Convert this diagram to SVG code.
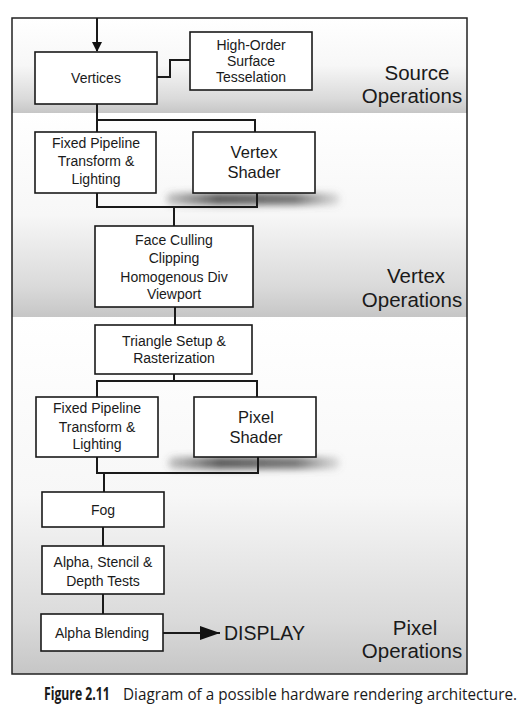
<svg xmlns="http://www.w3.org/2000/svg" width="530" height="710" viewBox="0 0 530 710">
<defs>
<linearGradient id="band" x1="0" y1="0" x2="0" y2="1">
<stop offset="0" stop-color="#ffffff"/>
<stop offset="0.5" stop-color="#f7f7f7"/>
<stop offset="0.85" stop-color="#dadada"/>
<stop offset="1" stop-color="#c6c6c6"/>
</linearGradient>
<linearGradient id="shfade" x1="0" y1="0" x2="1" y2="0">
<stop offset="0" stop-color="#555" stop-opacity="0.3"/>
<stop offset="0.3" stop-color="#444" stop-opacity="0.9"/>
<stop offset="0.75" stop-color="#555" stop-opacity="0.8"/>
<stop offset="1" stop-color="#777" stop-opacity="0.2"/>
</linearGradient>
<filter id="blur" x="-20%" y="-150%" width="140%" height="400%">
<feGaussianBlur stdDeviation="3.5"/>
</filter>
<marker id="arrow" markerWidth="10" markerHeight="10" refX="9" refY="5" orient="auto" markerUnits="userSpaceOnUse">
<path d="M0,0 L10,5 L0,10 Z" fill="#111"/>
</marker>
<marker id="arrow2" markerWidth="20" markerHeight="14" refX="20" refY="7" orient="auto" markerUnits="userSpaceOnUse">
<path d="M0,0 L20,7 L0,14 Z" fill="#111"/>
</marker>
</defs>
<style>
.box{fill:#fff;stroke:#1a1a1a;stroke-width:1.6}
.t{font-family:"Liberation Sans",Arial,sans-serif;font-size:14px;fill:#1a1a1a;text-anchor:middle}
.big{font-size:16.5px}
.lab{font-family:"Liberation Sans",Arial,sans-serif;font-size:20.5px;fill:#1a1a1a;text-anchor:middle}
.c{fill:none;stroke:#1a1a1a;stroke-width:2}
.shadow{fill:url(#shfade);filter:url(#blur)}
.cap{font-family:"Open Sans","Noto Sans",sans-serif;font-size:17px;fill:#1a1a1a}
</style>
<rect width="530" height="710" fill="#fff"/>
<g id="bands">
<rect x="12" y="18" width="455" height="95" fill="url(#band)"/>
<rect x="12" y="113" width="455" height="204" fill="url(#band)"/>
<rect x="12" y="317" width="455" height="357" fill="url(#band)"/>
<rect x="12" y="18" width="455" height="656" fill="none" stroke="#222" stroke-width="1.5"/>
</g>
<g id="shadows">
<rect class="shadow" x="166" y="193" width="174" height="12" rx="6"/>
<rect class="shadow" x="168" y="457" width="172" height="12" rx="6"/>
</g>
<g id="connectors">
<line class="c" x1="97" y1="18" x2="97" y2="51" marker-end="url(#arrow)"/>
<polyline class="c" points="157,77 170,77 170,60 190,60"/>
<polyline class="c" points="97,104 97,120 255,120 255,132"/>
<line class="c" x1="97" y1="120" x2="97" y2="132"/>
<polyline class="c" points="97,193 97,207 257,207 257,193"/>
<line class="c" x1="174" y1="207" x2="174" y2="226"/>
<line class="c" x1="175" y1="307" x2="175" y2="325"/>
<line class="c" x1="174" y1="374" x2="174" y2="381"/>
<polyline class="c" points="97,397 97,381 257,381 257,397"/>
<polyline class="c" points="97,457 97,473 258,473 258,457"/>
<line class="c" x1="104" y1="473" x2="104" y2="492"/>
<line class="c" x1="103" y1="527" x2="103" y2="546"/>
<line class="c" x1="103" y1="594" x2="103" y2="614"/>
<line class="c" x1="163" y1="633" x2="220" y2="633" stroke-width="2.5" marker-end="url(#arrow2)"/>
</g>
<g id="vertices">
<rect class="box" x="35" y="52" width="122" height="52"/>
<text class="t" x="96" y="83">Vertices</text>
</g>
<g id="highorder">
<rect class="box" x="190" y="32" width="122" height="58"/>
<text class="t" x="251" y="50">High-Order</text>
<text class="t" x="251" y="66">Surface</text>
<text class="t" x="251" y="82">Tesselation</text>
</g>
<g id="fixed1">
<rect class="box" x="35" y="132" width="121" height="61"/>
<text class="t" x="96" y="148">Fixed Pipeline</text>
<text class="t" x="96" y="166">Transform &amp;</text>
<text class="t" x="96" y="184">Lighting</text>
</g>
<g id="vshader">
<rect class="box" x="193" y="132" width="122" height="61"/>
<text class="t big" x="254" y="158">Vertex</text>
<text class="t big" x="254" y="178">Shader</text>
</g>
<g id="faceculling">
<rect class="box" x="95" y="226" width="158" height="81"/>
<text class="t" x="174" y="245">Face Culling</text>
<text class="t" x="174" y="263">Clipping</text>
<text class="t" x="174" y="282">Homogenous Div</text>
<text class="t" x="174" y="299">Viewport</text>
</g>
<g id="triangle">
<rect class="box" x="95" y="325" width="157" height="49"/>
<text class="t" x="174" y="346">Triangle Setup &amp;</text>
<text class="t" x="174" y="363">Rasterization</text>
</g>
<g id="fixed2">
<rect class="box" x="36" y="397" width="122" height="60"/>
<text class="t" x="97" y="413">Fixed Pipeline</text>
<text class="t" x="97" y="432">Transform &amp;</text>
<text class="t" x="97" y="449">Lighting</text>
</g>
<g id="pshader">
<rect class="box" x="194" y="397" width="122" height="60"/>
<text class="t big" x="256" y="423">Pixel</text>
<text class="t big" x="256" y="443">Shader</text>
</g>
<g id="fog">
<rect class="box" x="42" y="492" width="122" height="35"/>
<text class="t" x="103" y="515">Fog</text>
</g>
<g id="tests">
<rect class="box" x="42" y="546" width="122" height="48"/>
<text class="t" x="103" y="567">Alpha, Stencil &amp;</text>
<text class="t" x="103" y="586">Depth Tests</text>
</g>
<g id="blending">
<rect class="box" x="41" y="614" width="122" height="37"/>
<text class="t" x="102" y="638">Alpha Blending</text>
</g>
<g id="display">
<text x="224" y="640" font-family="Liberation Sans, Arial, sans-serif" font-size="19.5" fill="#1a1a1a">DISPLAY</text>
</g>
<g id="labels">
<text class="lab" x="417" y="80">Source</text>
<text class="lab" x="412" y="103">Operations</text>
<text class="lab" x="416" y="283">Vertex</text>
<text class="lab" x="412" y="307">Operations</text>
<text class="lab" x="415" y="635">Pixel</text>
<text class="lab" x="412" y="658">Operations</text>
</g>
<g id="caption">
<text class="cap" transform="translate(44,700) scale(0.73,1)" x="0" y="0" font-weight="bold" textLength="90" lengthAdjust="spacingAndGlyphs">Figure 2.11</text>
<text class="cap" transform="translate(123,700) scale(0.84,1)" x="0" y="0" textLength="469" lengthAdjust="spacingAndGlyphs">Diagram of a possible hardware rendering architecture.</text>
</g>
</svg>
